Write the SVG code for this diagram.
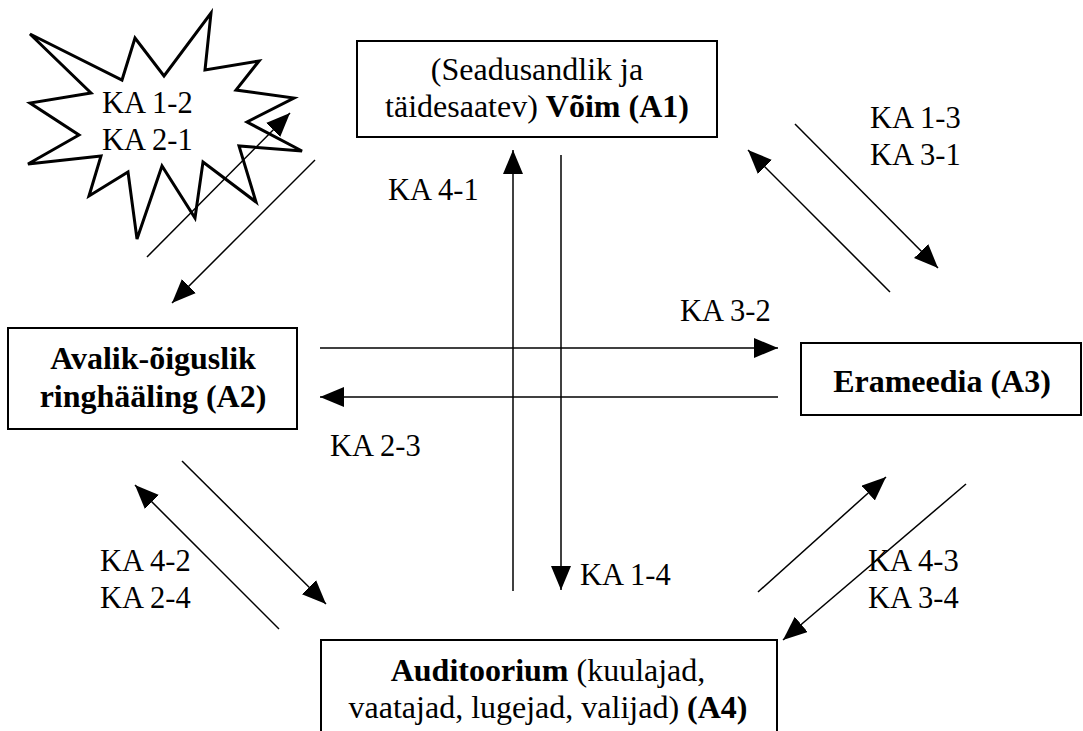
<svg xmlns="http://www.w3.org/2000/svg" width="1083" height="731" viewBox="0 0 1083 731" font-family="Liberation Serif, Times New Roman, serif">
  <style>
    .box { fill: #fff; stroke: #000; stroke-width: 2; }
    .star { fill: #fff; stroke: #000; stroke-width: 3; stroke-linejoin: miter; }
    text { font-family: 'Liberation Serif', 'Times New Roman', serif; fill: #000; }
    .node { font-size: 32px; text-anchor: middle; }
    .lbl { font-size: 30.5px; }
    .b { font-weight: bold; }
    .conn line { stroke: #000; stroke-width: 1.5; }
  </style>
  <defs>
    <marker id="head" markerUnits="userSpaceOnUse" markerWidth="26" markerHeight="22" refX="24" refY="10" orient="auto">
      <path d="M0,0 L24,10 L0,20 Z" fill="#000"/>
    </marker>
  </defs>

  <!-- A1: legislative and executive power -->
  <g id="a1">
    <rect class="box" x="357" y="41" width="360" height="96"/>
    <text class="node" x="537" y="80">(Seadusandlik ja</text>
    <text class="node" x="537" y="117">täidesaatev) <tspan class="b">Võim (A1)</tspan></text>
  </g>

  <!-- A2: public broadcasting -->
  <g id="a2">
    <rect class="box" x="8" y="328" width="289" height="101"/>
    <text class="node b" x="153" y="369">Avalik-õiguslik</text>
    <text class="node b" x="153" y="407">ringhääling (A2)</text>
  </g>

  <!-- A3: private media -->
  <g id="a3">
    <rect class="box" x="801" y="343" width="280" height="72"/>
    <text class="node b" x="942" y="392">Erameedia (A3)</text>
  </g>

  <!-- A4: audience -->
  <g id="a4">
    <rect class="box" x="321" y="640" width="456" height="100"/>
    <text class="node" x="548" y="681"><tspan class="b">Auditoorium</tspan> (kuulajad,</text>
    <text class="node" x="548" y="718">vaatajad, lugejad, valijad) <tspan class="b">(A4)</tspan></text>
  </g>

  <!-- burst around the A1-A2 channel labels -->
  <g id="burst">
    <polygon class="star" points="30,34 122,80 135,38 164,76 211,13 205,70 259,61 236,90 294,98 247,122 302,151 239,146 256,202 203,162 195,218 162,166 137,239 128,172 89,196 101,156 28,164 79,135 30,103 91,93"/>
    <text class="lbl" x="102" y="113">KA 1-2</text>
    <text class="lbl" x="102" y="150">KA 2-1</text>
  </g>

  <!-- communication channels -->
  <g id="connectors" class="conn">
    <line x1="147" y1="257" x2="290" y2="113" marker-end="url(#head)"/>
    <line x1="315" y1="160" x2="172" y2="303" marker-end="url(#head)"/>

    <line x1="890" y1="292" x2="748" y2="150" marker-end="url(#head)"/>
    <line x1="795" y1="124" x2="938" y2="268" marker-end="url(#head)"/>

    <line x1="513" y1="591" x2="513" y2="150" marker-end="url(#head)"/>
    <line x1="561" y1="155" x2="561" y2="590" marker-end="url(#head)"/>

    <line x1="320" y1="348" x2="778" y2="348" marker-end="url(#head)"/>
    <line x1="778" y1="397" x2="320" y2="397" marker-end="url(#head)"/>

    <line x1="182" y1="461" x2="326" y2="604" marker-end="url(#head)"/>
    <line x1="279" y1="629" x2="135" y2="485" marker-end="url(#head)"/>

    <line x1="758" y1="592" x2="886" y2="477" marker-end="url(#head)"/>
    <line x1="966" y1="484" x2="783" y2="640" marker-end="url(#head)"/>
  </g>

  <!-- channel labels -->
  <g id="labels">
    <text class="lbl" x="870" y="128">KA 1-3</text>
    <text class="lbl" x="870" y="165">KA 3-1</text>
    <text class="lbl" x="388" y="200">KA 4-1</text>
    <text class="lbl" x="680" y="321">KA 3-2</text>
    <text class="lbl" x="330" y="456">KA 2-3</text>
    <text class="lbl" x="100" y="571">KA 4-2</text>
    <text class="lbl" x="100" y="608">KA 2-4</text>
    <text class="lbl" x="580" y="585">KA 1-4</text>
    <text class="lbl" x="868" y="571">KA 4-3</text>
    <text class="lbl" x="868" y="608">KA 3-4</text>
  </g>
</svg>
